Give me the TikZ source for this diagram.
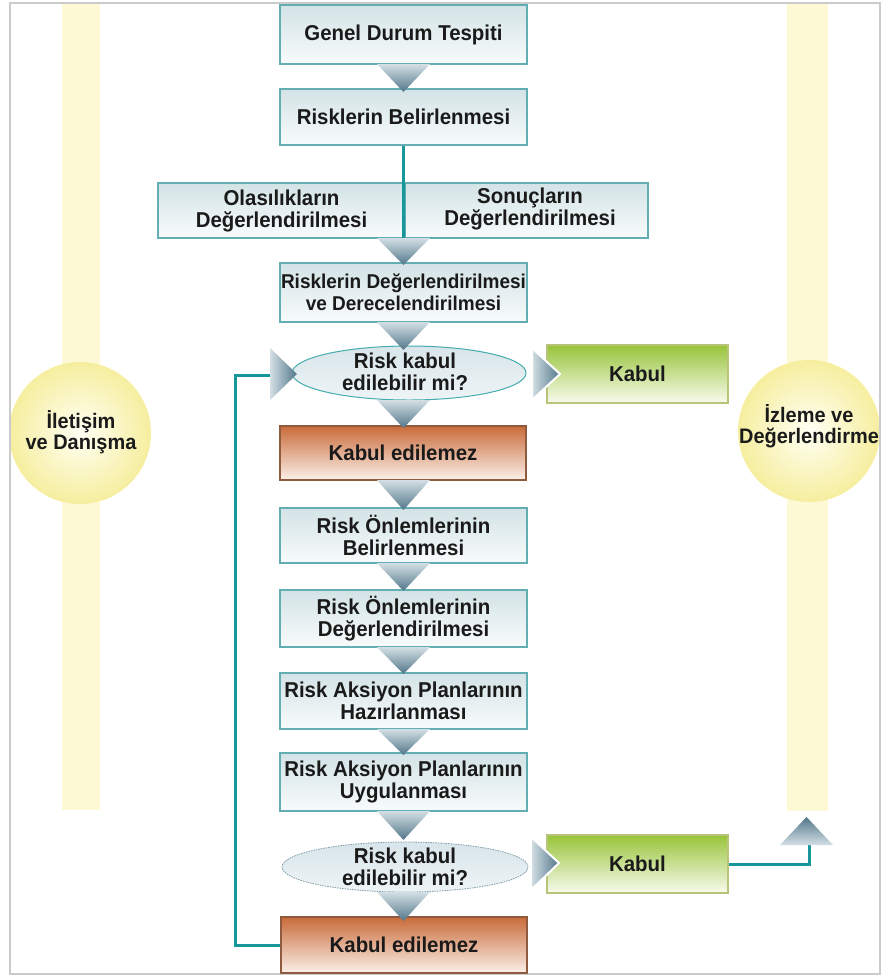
\documentclass[tikz,border=0pt]{standalone}
\usepackage{fontspec}
\setmainfont{Liberation Sans}[FakeStretch=0.95]
\usetikzlibrary{shapes.geometric}
\definecolor{barc}{HTML}{FDF9D4}
\definecolor{circout}{HTML}{F6EE9F}
\definecolor{circin}{HTML}{FFFFF4}
\definecolor{tealc}{HTML}{17979A}
\definecolor{boxline}{HTML}{62AEB2}
\definecolor{boxtop}{HTML}{D3E3E6}
\definecolor{boxbot}{HTML}{F8FBFB}
\definecolor{trilight}{HTML}{D3DFE4}
\definecolor{tridark}{HTML}{52768A}
\definecolor{ortop}{HTML}{C96B3A}
\definecolor{orbot}{HTML}{FBF0E9}
\definecolor{orline}{HTML}{8E5B3F}
\definecolor{grtop}{HTML}{98C43A}
\definecolor{grbot}{HTML}{F8FBEE}
\definecolor{grline}{HTML}{B9C37A}
\definecolor{elltop}{HTML}{D8E5EA}
\definecolor{ellbot}{HTML}{EEF4F6}
\definecolor{elldot}{HTML}{7F9CA8}
\definecolor{txt}{HTML}{1A1A1A}
\definecolor{framec}{HTML}{CBCBCB}
\newcommand\boxfont{\fontsize{21.5}{22.5}\selectfont\bfseries}
\newcommand\smallboxfont{\fontsize{20}{22}\selectfont\bfseries}
\newcommand\circfont{\fontsize{21}{21.5}\selectfont\bfseries}
\newcommand\downtri[2]{\shade[dtri] (377,#1) -- (430,#1) -- (403.5,#2) -- cycle;}
\begin{document}
\begin{tikzpicture}[x=1pt,y=-1pt,
  box/.style={draw=boxline, line width=1.2pt, top color=boxtop, bottom color=boxbot,
    inner sep=0pt, align=center, font=\boxfont, text=txt},
  orangebox/.style={box, draw=orline, top color=ortop, bottom color=orbot},
  greenbox/.style={box, draw=grline, top color=grtop, bottom color=grbot},
  dtri/.style={top color=trilight, bottom color=tridark},
  rtri/.style={left color=trilight, right color=tridark},
  tealline/.style={draw=tealc, line width=3pt},
  ellbox/.style={ellipse, inner sep=0pt, top color=elltop, bottom color=ellbot},
  plaintext/.style={inner sep=0pt, align=center, font=\boxfont, text=txt},
  circtext/.style={inner sep=0pt, align=center, font=\circfont, text=txt},
  sidecirc/.style={circle, inner sep=0pt, inner color=circin, outer color=circout}
]
\useasboundingbox (0,0) rectangle (884,978);
% side bars
\fill[barc] (62,3) rectangle (100,810);
\fill[barc] (787,3) rectangle (828,811);
% side circles
\node[sidecirc, minimum size=142pt] (lc) at (80,433) {};
\node[circtext] (lct) at (81,432) {İletişim\\ve Danışma};
\node[sidecirc, minimum size=142pt] (rc) at (809,431) {};
\node[circtext] (rct) at (809,426) {İzleme ve\\Değerlendirme};
% frame
\draw[framec, line width=1.5pt] (10,3) rectangle (880,974);

% main boxes
\node[box, minimum width=247pt, minimum height=59pt] (gdt) at (403.5,34.5) {Genel Durum Tespiti};
\node[box, minimum width=247pt, minimum height=56pt] (rb) at (403.5,117) {Risklerin Belirlenmesi};
\node[box, minimum width=247pt, minimum height=55pt] (olas) at (281.5,210.5) {};
\node[plaintext] at (281.5,211) {Olasılıkların\\Değerlendirilmesi};
\node[box, minimum width=243pt, minimum height=55pt] (sonuc) at (526.5,210.5) {};
\node[plaintext] at (530,209) {Sonuçların\\Değerlendirilmesi};
\draw[tealline] (rb.south) -- (rb.south |- olas.south);
\node[box, minimum width=247pt, minimum height=59pt, font=\smallboxfont] (rdd) at (403.5,292.5) {Risklerin Değerlendirilmesi\\ve Derecelendirilmesi};

\node[ellbox, draw=tealc!80, line width=1pt, minimum width=234pt, minimum height=54pt] (e1) at (409,373) {};
\node[plaintext] at (405,372) {Risk kabul\\edilebilir mi?};
\node[greenbox, minimum width=181pt, minimum height=58pt] (k1) at (637.5,374) {Kabul};
\node[orangebox, minimum width=246pt, minimum height=54pt] (ke1) at (403,453) {Kabul edilemez};

\node[box, minimum width=247pt, minimum height=55pt] (ron1) at (403.5,535.5) {Risk Önlemlerinin\\Belirlenmesi};
\node[box, minimum width=247pt, minimum height=57pt] (ron2) at (403.5,618.5) {Risk Önlemlerinin\\Değerlendirilmesi};
\node[box, minimum width=247pt, minimum height=56pt] (rap1) at (403.5,701) {Risk Aksiyon Planlarının\\Hazırlanması};
\node[box, minimum width=247pt, minimum height=58pt] (rap2) at (403.5,782) {Risk Aksiyon Planlarının\\Uygulanması};

\node[ellbox, draw=elldot, line width=0.8pt, dash pattern=on 1.5pt off 1pt, minimum width=246pt, minimum height=50pt] (e2) at (405,867) {};
\node[plaintext] at (405,867) {Risk kabul\\edilebilir mi?};
\node[greenbox, minimum width=181pt, minimum height=58pt] (k2) at (637.5,864) {Kabul};
\node[orangebox, minimum width=246pt, minimum height=56pt] (ke2) at (404,945) {Kabul edilemez};

% connectors
\coordinate (lt) at (270,375);
\coordinate (ut) at (809,845);
\draw[tealline] (ke2.west) -- ++(-45,0) |- (lt);
\draw[tealline] (k2.east) -| (ut);

% down arrow heads
\downtri{64}{92}
\downtri{238}{265}
\downtri{322}{350}
\downtri{400}{428}
\downtri{480}{510}
\downtri{563}{591}
\downtri{647}{674}
\downtri{729}{755}
\downtri{811}{840}
\downtri{892}{921}
% right arrow heads
\shade[rtri] (270,348) -- (297,374) -- (270,400) -- cycle;
\shadedraw[rtri, draw=white, line width=2pt] (532,348) -- (560,374) -- (532,400) -- cycle;
\shadedraw[rtri, draw=white, line width=2pt] (531,837) -- (559,863) -- (531,890) -- cycle;
% up arrow head
\shade[top color=tridark, bottom color=trilight] (780,845) -- (833,845) -- (806.5,817) -- cycle;
\end{tikzpicture}
\end{document}
